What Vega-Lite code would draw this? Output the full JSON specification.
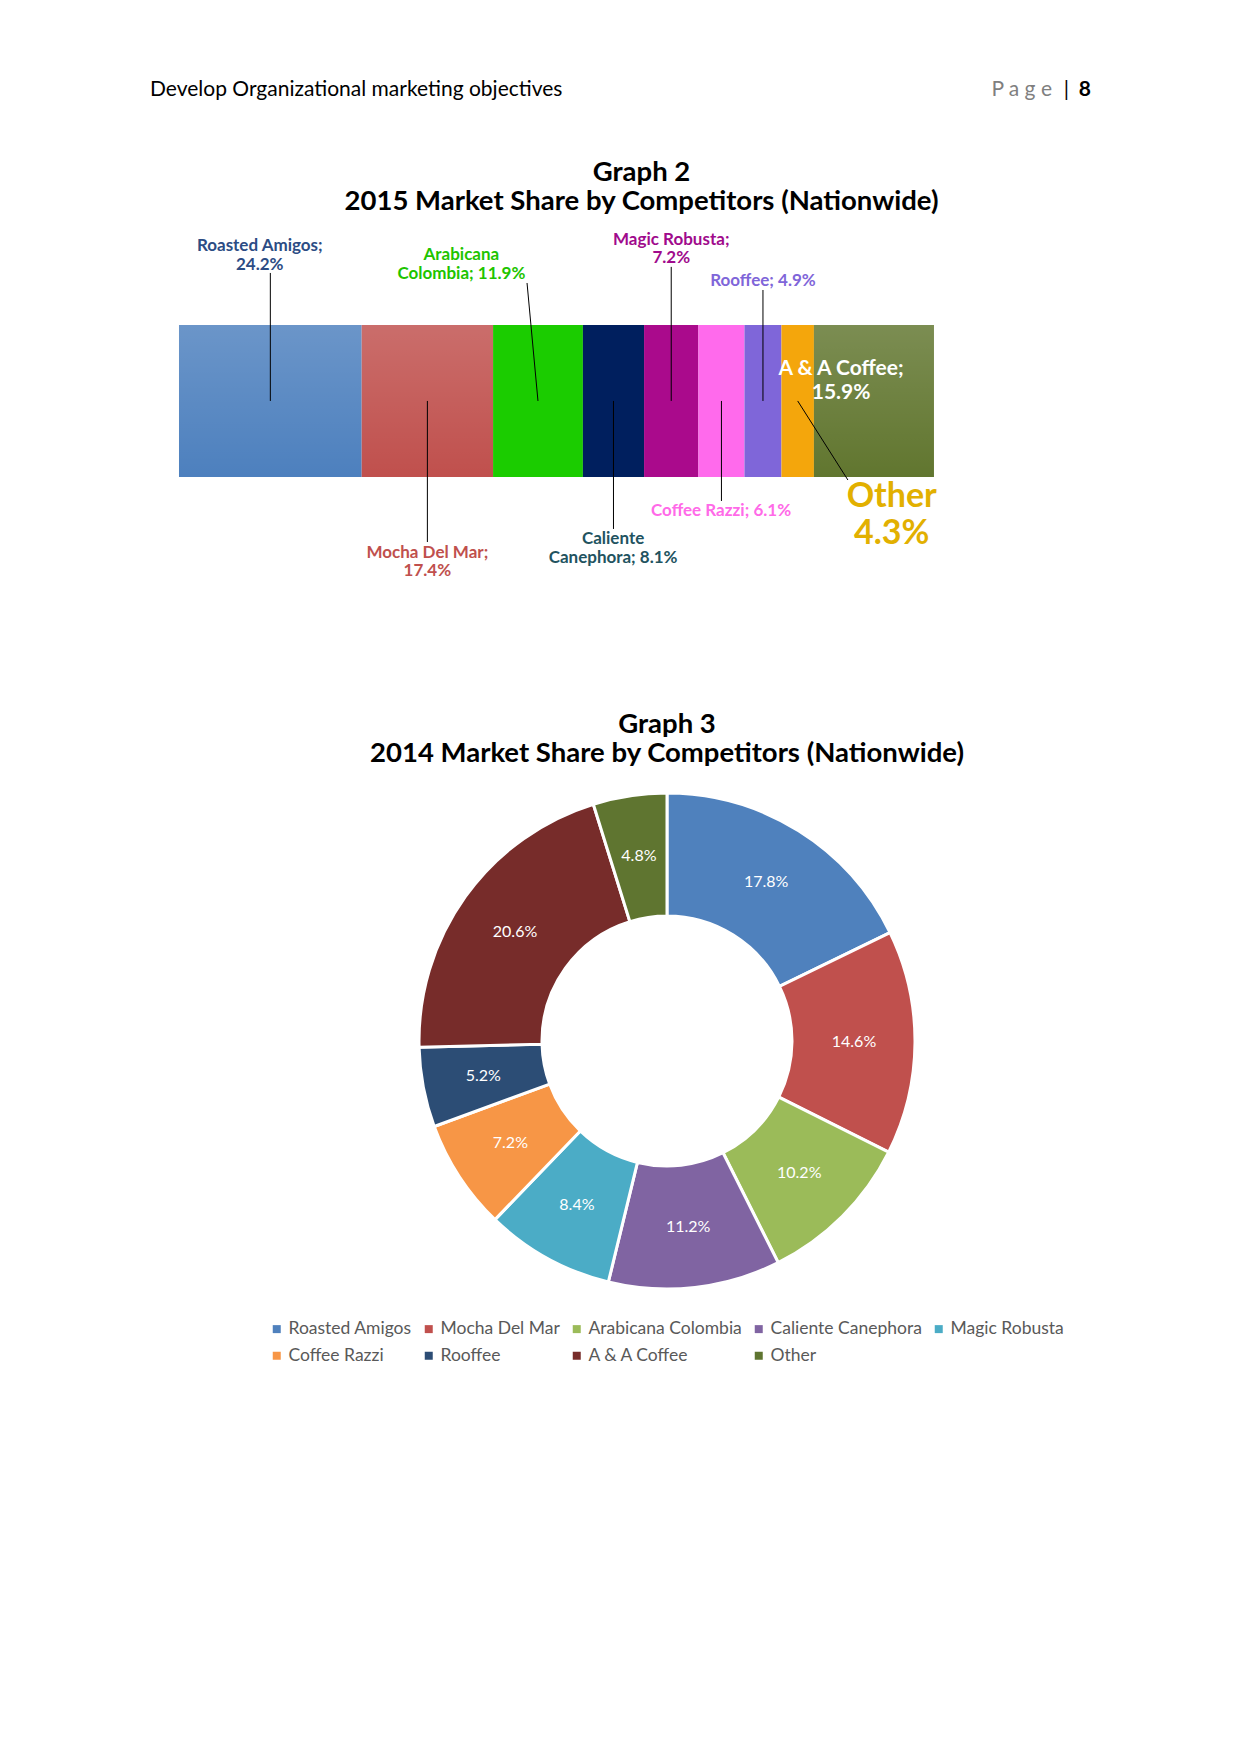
{
  "$schema": "https://vega.github.io/schema/vega-lite/v6.json",
  "background": "white",
  "padding": {"left": 150, "top": 21, "right": 0, "bottom": 0},
  "spacing": 0,
  "config": {"view": {"stroke": null}, "font": "Lato", "text": {"font": "Lato"}},
  "datasets": {
    "share2015": [
      {"name": "Roasted Amigos", "share": 24.2, "order": 1},
      {"name": "Mocha Del Mar", "share": 17.4, "order": 2},
      {"name": "Arabicana Colombia", "share": 11.9, "order": 3},
      {"name": "Caliente Canephora", "share": 8.1, "order": 4},
      {"name": "Magic Robusta", "share": 7.2, "order": 5},
      {"name": "Coffee Razzi", "share": 6.1, "order": 6},
      {"name": "Rooffee", "share": 4.9, "order": 7},
      {"name": "Other", "share": 4.3, "order": 8},
      {"name": "A & A Coffee", "share": 15.9, "order": 9}
    ],
    "labels2015": [
      {"name": "Roasted Amigos", "label": "Roasted Amigos;\n24.2%", "lx": 10.7, "ly": 1.518, "ax": 12.1, "ay": 0.5, "bx": 12.1, "by": 1.342},
      {"name": "Mocha Del Mar", "label": "Mocha Del Mar;\n17.4%", "lx": 32.9, "ly": -0.5, "ax": 32.9, "ay": 0.5, "bx": 32.9, "by": -0.428},
      {"name": "Arabicana Colombia", "label": "Arabicana\nColombia; 11.9%", "lx": 37.4, "ly": 1.459, "ax": 47.55, "ay": 0.5, "bx": 46.1, "by": 1.276},
      {"name": "Caliente Canephora", "label": "Caliente\nCanephora; 8.1%", "lx": 57.5, "ly": -0.411, "ax": 57.55, "ay": 0.5, "bx": 57.55, "by": -0.342},
      {"name": "Magic Robusta", "label": "Magic Robusta;\n7.2%", "lx": 65.2, "ly": 1.562, "ax": 65.2, "ay": 0.5, "bx": 65.2, "by": 1.382},
      {"name": "Coffee Razzi", "label": "Coffee Razzi; 6.1%", "lx": 71.8, "ly": -0.227, "ax": 71.85, "ay": 0.5, "bx": 71.85, "by": -0.158},
      {"name": "Rooffee", "label": "Rooffee; 4.9%", "lx": 77.35, "ly": 1.289, "ax": 77.35, "ay": 0.5, "bx": 77.35, "by": 1.23},
      {"name": "Other", "label": "Other\n4.3%", "lx": 94.4, "ly": -0.131, "ax": 81.95, "ay": 0.5, "bx": 88.6, "by": -0.02},
      {"name": "A & A Coffee", "label": "A & A Coffee;\n15.9%", "lx": 87.7, "ly": 0.707}
    ],
    "share2014": [
      {"name": "Roasted Amigos", "share": 17.8, "order": 1},
      {"name": "Mocha Del Mar", "share": 14.6, "order": 2},
      {"name": "Arabicana Colombia", "share": 10.2, "order": 3},
      {"name": "Caliente Canephora", "share": 11.2, "order": 4},
      {"name": "Magic Robusta", "share": 8.4, "order": 5},
      {"name": "Coffee Razzi", "share": 7.2, "order": 6},
      {"name": "Rooffee", "share": 5.2, "order": 7},
      {"name": "A & A Coffee", "share": 20.6, "order": 8},
      {"name": "Other", "share": 4.8, "order": 9}
    ],
    "header": [
      {"side": "left", "piece": "doc", "text": "Develop Organizational marketing objectives"},
      {"side": "right", "piece": "page", "text": "P a g e"},
      {"side": "right", "piece": "bar", "text": "|"},
      {"side": "right", "piece": "num", "text": "8"}
    ]
  },
  "vconcat": [
    {
      "width": 941,
      "height": 138,
      "data": {"name": "header"},
      "encoding": {
        "x": {"field": "side", "type": "nominal", "scale": {"type": "point", "domain": ["left", "right"], "padding": 0}, "axis": null},
        "text": {"field": "text"}
      },
      "layer": [
        {"transform": [{"filter": "datum.piece === 'doc'"}], "mark": {"type": "text", "align": "left", "baseline": "middle", "fontSize": 21, "color": "#000000"}},
        {"transform": [{"filter": "datum.piece === 'page'"}], "mark": {"type": "text", "align": "right", "baseline": "middle", "fontSize": 21, "color": "#7F7F7F", "dx": -39}},
        {"transform": [{"filter": "datum.piece === 'bar'"}], "mark": {"type": "text", "align": "right", "baseline": "middle", "fontSize": 21, "color": "#000000", "dx": -22}},
        {"transform": [{"filter": "datum.piece === 'num'"}], "mark": {"type": "text", "align": "right", "baseline": "middle", "fontSize": 21, "fontWeight": "bold", "color": "#000000"}}
      ]
    },
    {
      "title": {"text": ["Graph 2", "2015 Market Share by Competitors (Nationwide)"], "fontSize": 27.5, "fontWeight": "bold", "font": "Lato", "color": "#000000", "anchor": "middle", "dx": 21, "offset": 3.5, "lineHeight": 29},
      "width": 941,
      "height": 491,
      "layer": [
        {
          "data": {"name": "share2015"},
          "transform": [{"stack": "share", "groupby": [], "sort": [{"field": "order"}], "as": ["x0", "x1"]}],
          "mark": {"type": "bar"},
          "encoding": {
            "x": {"field": "x0", "type": "quantitative", "scale": {"domain": [-3.84, 120.8], "nice": false, "zero": false}, "axis": null},
            "x2": {"field": "x1"},
            "y": {"datum": 0, "type": "quantitative", "scale": {"domain": [-1.533, 1.697], "nice": false, "zero": false}, "axis": null},
            "y2": {"datum": 1},
            "color": {"field": "name", "type": "nominal", "legend": null,
              "scale": {"domain": ["Roasted Amigos", "Mocha Del Mar", "Arabicana Colombia", "Caliente Canephora", "Magic Robusta", "Coffee Razzi", "Rooffee", "Other", "A & A Coffee"],
                        "range": ["#4D80BE", "#C0504D", "#1BCC00", "#001F5E", "#AA0A8C", "#FF6AEC", "#7F66D9", "#F4A60C", "#61762F"]}}
          }
        },
        {
          "data": {"name": "share2015"},
          "transform": [
            {"stack": "share", "groupby": [], "sort": [{"field": "order"}], "as": ["x0", "x1"]},
            {"filter": {"field": "name", "oneOf": ["Roasted Amigos", "Mocha Del Mar", "A & A Coffee"]}}
          ],
          "mark": {"type": "bar", "color": {"gradient": "linear", "x1": 0, "y1": 0, "x2": 0, "y2": 1, "stops": [{"offset": 0, "color": "rgba(255,255,255,0.17)"}, {"offset": 1, "color": "rgba(255,255,255,0)"}]}},
          "encoding": {
            "x": {"field": "x0", "type": "quantitative", "scale": {"domain": [-3.84, 120.8], "nice": false, "zero": false}, "axis": null},
            "x2": {"field": "x1"},
            "y": {"datum": 0, "type": "quantitative", "scale": {"domain": [-1.533, 1.697], "nice": false, "zero": false}, "axis": null},
            "y2": {"datum": 1}
          }
        },
        {
          "data": {"name": "labels2015"},
          "transform": [{"filter": "isValid(datum.ax)"}],
          "mark": {"type": "rule", "color": "#000000", "strokeWidth": 1},
          "encoding": {
            "x": {"field": "ax", "type": "quantitative", "scale": {"domain": [-3.84, 120.8], "nice": false, "zero": false}, "axis": null},
            "x2": {"field": "bx"},
            "y": {"field": "ay", "type": "quantitative", "scale": {"domain": [-1.533, 1.697], "nice": false, "zero": false}, "axis": null},
            "y2": {"field": "by"}
          }
        },
        {
          "data": {"name": "labels2015"},
          "transform": [{"filter": {"field": "name", "oneOf": ["Roasted Amigos", "Mocha Del Mar", "Arabicana Colombia", "Caliente Canephora", "Magic Robusta", "Coffee Razzi", "Rooffee"]}}],
          "mark": {"type": "text", "align": "center", "baseline": "middle", "fontSize": 17, "fontWeight": "bold", "lineBreak": "\n", "lineHeight": 18.5},
          "encoding": {
            "x": {"field": "lx", "type": "quantitative", "scale": {"domain": [-3.84, 120.8], "nice": false, "zero": false}, "axis": null},
            "y": {"field": "ly", "type": "quantitative", "scale": {"domain": [-1.533, 1.697], "nice": false, "zero": false}, "axis": null},
            "text": {"field": "label"},
            "color": {"field": "name", "type": "nominal", "legend": null,
              "scale": {"domain": ["Roasted Amigos", "Mocha Del Mar", "Arabicana Colombia", "Caliente Canephora", "Magic Robusta", "Coffee Razzi", "Rooffee"],
                        "range": ["#2C4C84", "#C0504D", "#1EC400", "#22535F", "#A00A8C", "#FF6AE8", "#7F66D9"]}}
          }
        },
        {
          "data": {"name": "labels2015"},
          "transform": [{"filter": "datum.name === 'Other'"}],
          "mark": {"type": "text", "align": "center", "baseline": "middle", "fontSize": 34, "fontWeight": "bold", "lineBreak": "\n", "lineHeight": 37, "color": "#E2B000"},
          "encoding": {
            "x": {"field": "lx", "type": "quantitative", "scale": {"domain": [-3.84, 120.8], "nice": false, "zero": false}, "axis": null},
            "y": {"field": "ly", "type": "quantitative", "scale": {"domain": [-1.533, 1.697], "nice": false, "zero": false}, "axis": null},
            "text": {"field": "label"}
          }
        },
        {
          "data": {"name": "labels2015"},
          "transform": [{"filter": "datum.name === 'A & A Coffee'"}],
          "mark": {"type": "text", "align": "center", "baseline": "middle", "fontSize": 21, "fontWeight": "bold", "lineBreak": "\n", "lineHeight": 23.5, "color": "#FFFFFF"},
          "encoding": {
            "x": {"field": "lx", "type": "quantitative", "scale": {"domain": [-3.84, 120.8], "nice": false, "zero": false}, "axis": null},
            "y": {"field": "ly", "type": "quantitative", "scale": {"domain": [-1.533, 1.697], "nice": false, "zero": false}, "axis": null},
            "text": {"field": "label"}
          }
        }
      ],
      "resolve": {"scale": {"color": "independent"}}
    },
    {
      "title": {"text": ["Graph 3", "2014 Market Share by Competitors (Nationwide)"], "fontSize": 27.5, "fontWeight": "bold", "font": "Lato", "color": "#000000", "anchor": "middle", "offset": 20, "lineHeight": 29},
      "width": 1034,
      "height": 500,
      "data": {"name": "share2014"},
      "transform": [{"calculate": "format(datum.share, '.1f') + '%'", "as": "pct"}],
      "encoding": {
        "theta": {"field": "share", "type": "quantitative", "stack": true},
        "order": {"field": "order", "type": "quantitative"}
      },
      "layer": [
        {
          "mark": {"type": "arc", "innerRadius": 125, "outerRadius": 248, "stroke": "#FFFFFF", "strokeWidth": 3},
          "encoding": {
            "color": {"field": "name", "type": "nominal",
              "scale": {"domain": ["Roasted Amigos", "Mocha Del Mar", "Arabicana Colombia", "Caliente Canephora", "Magic Robusta", "Coffee Razzi", "Rooffee", "A & A Coffee", "Other"],
                        "range": ["#4F81BD", "#C0504D", "#9BBB59", "#8064A2", "#4BACC6", "#F79646", "#2C4D75", "#772C2A", "#5F7530"]},
              "legend": {"orient": "none", "legendX": 118, "legendY": 1299, "direction": "horizontal", "columns": 5, "title": null,
                "symbolType": "square", "symbolSize": 64, "symbolStrokeWidth": 0, "labelFont": "Lato", "labelFontSize": 17.5,
                "labelColor": "#595959", "columnPadding": 8, "rowPadding": 8, "labelOffset": 3}}
          }
        },
        {
          "mark": {"type": "text", "radius": 187, "fill": "#FFFFFF", "fontSize": 16, "font": "Lato"},
          "encoding": {"text": {"field": "pct"}, "detail": {"field": "name"}}
        }
      ]
    }
  ]
}
